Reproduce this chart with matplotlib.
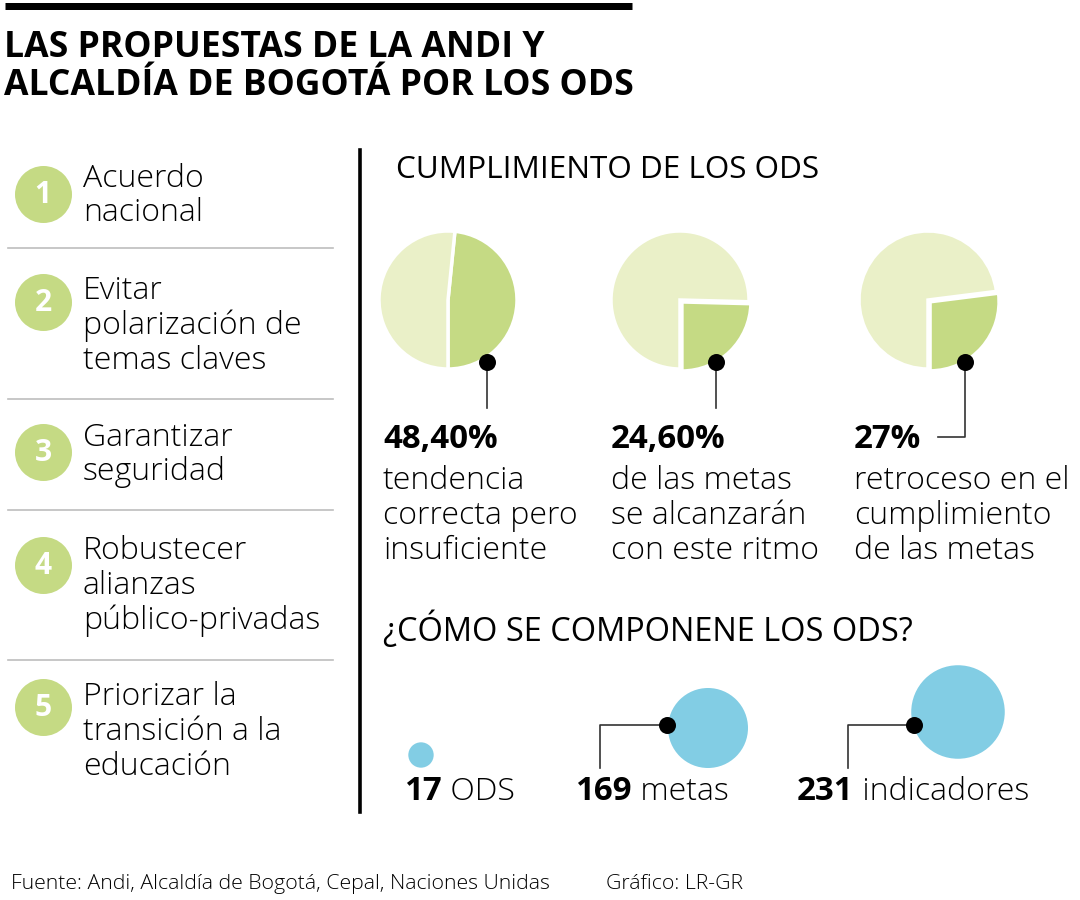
import matplotlib
matplotlib.use("Agg")
import matplotlib.pyplot as plt

# ---------------- data ----------------
title_lines = ["LAS PROPUESTAS DE LA ANDI Y", "ALCALDÍA DE BOGOTÁ POR LOS ODS"]
proposals = [
    "Acuerdo\nnacional",
    "Evitar\npolarización de\ntemas claves",
    "Garantizar\nseguridad",
    "Robustecer\nalianzas\npúblico-privadas",
    "Priorizar la\ntransición a la\neducación",
]
pie_title = "CUMPLIMIENTO DE LOS ODS"
pie_values = [48.4, 24.6, 27.0]
pie_labels = ["48,40%", "24,60%", "27%"]
pie_texts = [
    "tendencia\ncorrecta pero\ninsuficiente",
    "de las metas\nse alcanzarán\ncon este ritmo",
    "retroceso en el\ncumplimiento\nde las metas",
]
bubble_title = "¿CÓMO SE COMPONENE LOS ODS?"
bubble_values = [17, 169, 231]
bubble_units = ["ODS", "metas", "indicadores"]
source = "Fuente: Andi, Alcaldía de Bogotá, Cepal, Naciones Unidas"
credit = "Gráfico: LR-GR"

# ---------------- style ----------------
FONT = "Open Sans"
GREEN = "#c5da84"
LIGHT = "#eaf0c8"
BLUE = "#82cde4"
W, H = 1080, 900
PT = 0.72  # points per pixel at dpi 100
BODY = 32 * PT
LS = 1.12

fig = plt.figure(figsize=(W / 100, H / 100), dpi=100)

# pies first (so the overlay axes draws above them)
pie_cx = [448, 680, 928]
pie_cy = 300
R = 69
explodes = [0.0, 0.04, 0.04]
for cx, v, ex in zip(pie_cx, pie_values, explodes):
    pax = fig.add_axes([(cx - R) / W, (H - pie_cy - R) / H, 2 * R / W, 2 * R / H])
    wedges, _ = pax.pie([v, 100 - v], colors=[GREEN, LIGHT], startangle=-90,
                        counterclock=True, radius=1, explode=[ex, 0],
                        wedgeprops=dict(edgecolor="white", linewidth=2.5))
    for w_ in wedges:
        w_.set_clip_on(False)
    pax.set_xlim(-1, 1)
    pax.set_ylim(-1, 1)
    pax.axis("off")

ax = fig.add_axes([0, 0, 1, 1])
ax.patch.set_visible(False)
ax.set_xlim(0, W)
ax.set_ylim(H, 0)
ax.axis("off")

# top bar + title
ax.plot([5, 632], [5.5, 5.5], color="black", lw=7 * PT, solid_capstyle="butt")
ax.text(4, 48, title_lines[0], fontsize=35.5 * PT, fontweight="bold", family=FONT,
        va="center", ha="left")
ax.text(4, 86, title_lines[1], fontsize=35.5 * PT, fontweight="bold", family=FONT,
        va="center", ha="left")

# left list
circle_y = [194, 302, 452, 565, 707]
text_centers = [196, 326, 455, 586, 732]
separators = [248, 399, 510, 660]
for i, (txt, cy, ty) in enumerate(zip(proposals, circle_y, text_centers)):
    ax.scatter([43], [cy], s=(57 * PT) ** 2, color=GREEN, zorder=3, linewidths=0)
    ax.text(43, cy + 1, str(i + 1), color="white", fontsize=30 * PT, fontweight="bold",
            family=FONT, ha="center", va="center", zorder=4)
    ax.text(83, ty, txt, fontsize=BODY, family=FONT, fontweight="light",
            ha="left", va="center", linespacing=LS)
for y in separators:
    ax.plot([8, 333], [y, y], color="#bdbdbd", lw=1.2)

# divider
ax.plot([360, 360], [150, 812], color="black", lw=2.6)

# pie section
ax.text(396, 170, pie_title, fontsize=31.5 * PT, family=FONT, ha="left", va="center")

dots = [(487, 362), (716, 362), (965, 362)]
for j, (dx, dy) in enumerate(dots):
    if j < 2:
        ax.plot([dx, dx], [dy, 408], color="#333333", lw=1.2, zorder=5)
    else:
        ax.plot([dx, dx, 938], [dy, 437, 437], color="#333333", lw=1.2, zorder=5)
    ax.scatter([dx], [dy], s=(17 * PT) ** 2, color="black", zorder=6, linewidths=0)

label_x = [383, 611, 854]
for lx, lab, txt in zip(label_x, pie_labels, pie_texts):
    ax.text(lx, 440, lab, fontsize=33 * PT, fontweight="bold", family=FONT,
            ha="left", va="center")
    ax.text(lx, 516, txt, fontsize=BODY, family=FONT, fontweight="light",
            ha="left", va="center", linespacing=LS)

# bubbles
ax.text(383, 630, bubble_title, fontsize=32.5 * PT, family=FONT, ha="left", va="center")
bub_x = [421, 708, 958]
bub_y = [755, 728, 712]
scale = (80 * PT) ** 2 / 169.0
ax.scatter(bub_x, bub_y, s=[v * scale for v in bubble_values], color=BLUE,
           linewidths=0, zorder=3)
for dx, lx in [(667, 600), (914, 848)]:
    ax.plot([dx, lx, lx], [725, 725, 768], color="#333333", lw=1.2, zorder=4)
    ax.scatter([dx], [725], s=(17 * PT) ** 2, color="black", zorder=5, linewidths=0)

bl_x = [404, 575, 797]
for bx, v, u in zip(bl_x, bubble_values, bubble_units):
    t = ax.text(bx, 792, str(v), fontsize=33 * PT, fontweight="bold", family=FONT,
                ha="left", va="center")
    ax.annotate(" " + u, xycoords=t, xy=(1, 0.5), va="center", ha="left",
                fontsize=BODY, family=FONT, fontweight="light")

# footer
ax.text(11, 884, source, fontsize=21.3 * PT, family=FONT, ha="left", va="center",
        fontweight="light")
ax.text(606, 884, credit, fontsize=21.3 * PT, family=FONT, ha="left", va="center",
        fontweight="light")

fig.savefig("out.png", dpi=100)
